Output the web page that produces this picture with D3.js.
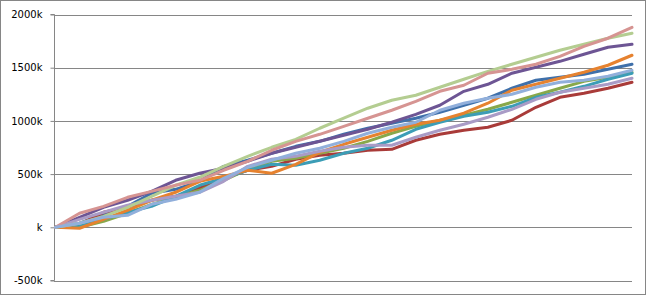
<!DOCTYPE html>
<html>
<head>
<meta charset="utf-8">
<script src="https://cdnjs.cloudflare.com/ajax/libs/d3/7.9.0/d3.min.js"></script>
<style>
  html, body { margin: 0; padding: 0; background: #fff; }
  svg { display: block; }
</style>
</head>
<body>
<div id="chart"></div>
<script>
// Line chart: ten cumulative series (values in k)
const steps = d3.range(25); // sample points along the x axis

const tickValues = [-500, 0, 500, 1000, 1500, 2000];
const tickLabels = ['-500k', 'k', '500k', '1000k', '1500k', '2000k'];

const blue      = [0, 38, 122, 197, 320, 357, 432, 573, 630, 696, 761, 808, 874, 931, 978, 1025, 1081, 1147, 1213, 1307, 1382, 1410, 1438, 1485, 1532];
const red       = [0, 28, 141, 188, 254, 291, 367, 461, 536, 573, 639, 677, 696, 724, 733, 818, 874, 912, 940, 1006, 1128, 1222, 1260, 1307, 1363];
const green     = [0, 0, 56, 132, 216, 282, 348, 442, 545, 620, 649, 696, 743, 808, 884, 949, 1006, 1053, 1109, 1175, 1241, 1307, 1372, 1410, 1457];
const purple    = [0, 94, 188, 254, 338, 442, 508, 555, 620, 696, 752, 808, 865, 921, 987, 1062, 1147, 1278, 1344, 1448, 1504, 1560, 1626, 1692, 1720];
const teal      = [0, 19, 75, 141, 197, 291, 395, 461, 536, 592, 583, 630, 696, 743, 818, 921, 987, 1043, 1081, 1137, 1222, 1269, 1325, 1391, 1448];
const orange    = [0, -9, 75, 160, 254, 329, 432, 479, 536, 508, 592, 705, 780, 846, 912, 968, 1006, 1072, 1166, 1288, 1344, 1401, 1457, 1523, 1617];
const lavender  = [0, 75, 141, 207, 254, 291, 329, 432, 573, 639, 667, 714, 752, 771, 771, 846, 912, 968, 1034, 1109, 1203, 1269, 1307, 1344, 1401];
const lightGreen= [0, 38, 103, 188, 291, 395, 470, 573, 667, 752, 827, 931, 1025, 1119, 1194, 1241, 1316, 1391, 1466, 1532, 1598, 1664, 1720, 1777, 1824];
const pink      = [0, 132, 197, 282, 338, 395, 442, 536, 620, 724, 808, 874, 949, 1025, 1100, 1184, 1278, 1335, 1448, 1485, 1532, 1607, 1701, 1777, 1880];
const lightBlue = [0, 38, 94, 113, 216, 263, 329, 461, 564, 630, 696, 743, 808, 884, 940, 987, 1100, 1166, 1213, 1250, 1316, 1363, 1382, 1419, 1476];

const series = [
  { name: 'Series1',  values: blue,       color: '#3f70aa' },
  { name: 'Series2',  values: red,        color: '#a93b39' },
  { name: 'Series3',  values: green,      color: '#88a84a' },
  { name: 'Series4',  values: purple,     color: '#6d5594' },
  { name: 'Series5',  values: teal,       color: '#3c9db6' },
  { name: 'Series6',  values: orange,     color: '#e6822f' },
  { name: 'Series7',  values: lavender,   color: '#a99bc6' },
  { name: 'Series8',  values: lightGreen, color: '#b4cd91' },
  { name: 'Series9',  values: pink,       color: '#d69492' },
  { name: 'Series10', values: lightBlue,  color: '#91afdb' }
];

const width = 647, height = 296;

const svg = d3.select('#chart').append('svg')
  .attr('width', width)
  .attr('height', height);

// chart frame
svg.append('rect')
  .attr('x', 0.5).attr('y', 0.5)
  .attr('width', width - 2).attr('height', height - 2)
  .attr('fill', '#fff')
  .attr('stroke', '#868686');

const x = d3.scaleLinear().domain([0, steps.length - 1]).range([55.5, 632]);
const y = d3.scaleLinear().domain([-500, 2000]).range([280.5, 14.5]);

// horizontal gridlines
svg.append('g')
  .selectAll('line')
  .data(tickValues)
  .join('line')
  .attr('x1', 54).attr('x2', 632)
  .attr('y1', d => Math.round(y(d)) + 0.5)
  .attr('y2', d => Math.round(y(d)) + 0.5)
  .attr('stroke', '#868686');

// value axis
const yAxis = d3.axisLeft(y)
  .tickValues(tickValues)
  .tickFormat((d, i) => tickLabels[i])
  .tickSize(4)
  .tickPadding(8);

const ax = svg.append('g')
  .attr('transform', 'translate(54.5,0)')
  .call(yAxis);
ax.select('.domain').attr('stroke', '#868686').attr('d', `M-4,${y(2000)}H0V${y(-500)}H-4`);
ax.selectAll('.tick line').attr('stroke', '#868686');
ax.selectAll('.tick text')
  .attr('fill', '#000')
  .style('font-family', '"DejaVu Sans", sans-serif')
  .style('font-size', '10px');

// lines
const line = d3.line()
  .x((d, i) => x(steps[i]))
  .y(d => y(d));

svg.append('g')
  .attr('fill', 'none')
  .attr('stroke-width', 3)
  .attr('stroke-linejoin', 'round')
  .attr('stroke-linecap', 'round')
  .selectAll('path')
  .data(series)
  .join('path')
  .attr('stroke', d => d.color)
  .attr('d', d => line(d.values));
</script>
</body>
</html>
